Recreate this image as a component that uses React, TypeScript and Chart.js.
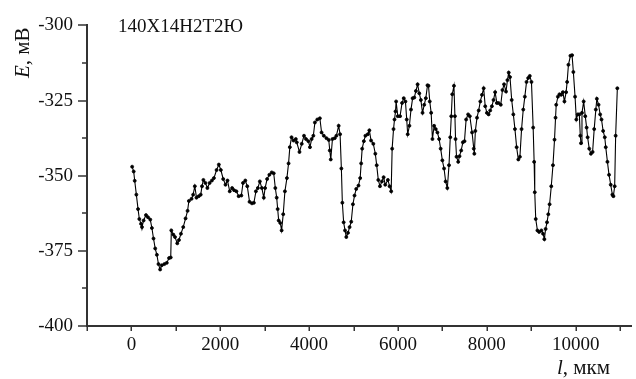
import { useEffect, useRef } from 'react';
import { Chart, registerables } from 'chart.js';

Chart.register(...registerables);

// l, мкм
const positions = [
  16, 51, 74, 111, 149, 178, 216, 238, 274, 328, 372, 424, 461, 497, 535, 573, 609, 646, 684, 742,
  796, 847, 885, 898, 943, 981, 1032, 1070, 1115, 1166, 1219, 1264, 1293, 1353, 1389, 1427, 1464, 1516, 1560, 1589,
  1620, 1665, 1710, 1761, 1812, 1857, 1917, 1968, 2013, 2066, 2118, 2162, 2213, 2267, 2311, 2363, 2414, 2474, 2512, 2563,
  2608, 2659, 2713, 2757, 2802, 2846, 2891, 2936, 2980, 3009, 3054, 3105, 3159, 3203, 3239, 3270, 3292, 3315, 3350, 3381,
  3417, 3455, 3500, 3537, 3566, 3604, 3649, 3700, 3722, 3783, 3834, 3885, 3930, 3983, 4019, 4057, 4095, 4130, 4184, 4242,
  4280, 4331, 4391, 4442, 4465, 4487, 4525, 4576, 4614, 4665, 4697, 4726, 4748, 4777, 4808, 4837, 4875, 4911, 4948, 4986,
  5022, 5060, 5111, 5149, 5171, 5194, 5232, 5267, 5321, 5356, 5394, 5445, 5490, 5521, 5557, 5595, 5639, 5677, 5713, 5773,
  5811, 5847, 5869, 5900, 5922, 5945, 5958, 5996, 6047, 6092, 6130, 6168, 6197, 6219, 6257, 6293, 6330, 6368, 6404, 6442,
  6480, 6515, 6553, 6591, 6627, 6665, 6687, 6716, 6747, 6776, 6814, 6850, 6888, 6926, 6961, 6999, 7037, 7073, 7111, 7149,
  7177, 7200, 7222, 7260, 7282, 7296, 7318, 7356, 7385, 7423, 7461, 7497, 7534, 7579, 7617, 7668, 7706, 7719, 7742, 7779,
  7817, 7853, 7891, 7929, 7964, 8002, 8040, 8076, 8114, 8151, 8187, 8225, 8263, 8314, 8352, 8388, 8432, 8464, 8493, 8522,
  8560, 8597, 8633, 8671, 8709, 8745, 8782, 8820, 8856, 8894, 8931, 8967, 9005, 9043, 9065, 9079, 9101, 9139, 9177, 9228,
  9266, 9295, 9324, 9355, 9384, 9413, 9451, 9489, 9524, 9547, 9562, 9600, 9636, 9674, 9712, 9747, 9785, 9808, 9837, 9882,
  9919, 9948, 9986, 10015, 10046, 10082, 10104, 10120, 10142, 10180, 10216, 10247, 10269, 10305, 10343, 10381, 10417, 10454, 10477, 10515,
  10551, 10582, 10618, 10655, 10677, 10715, 10751, 10789, 10826, 10849, 10878, 10900, 10938,
];

// E, мВ
const potentials = [
  -347.0, -348.6, -351.7, -356.3, -361.1, -364.4, -366.0, -367.1, -364.9, -363.1, -363.8, -364.6, -367.4, -370.9, -374.2, -376.3, -379.4, -381.2, -379.8, -379.4,
  -379.0, -377.4, -377.2, -368.2, -369.6, -370.4, -372.5, -371.4, -369.3, -367.1, -364.2, -361.7, -358.4, -357.7, -356.3, -353.5, -357.3, -356.8, -356.3, -353.5,
  -351.4, -352.4, -354.1, -352.4, -351.6, -350.8, -348.1, -346.3, -348.1, -351.1, -353.0, -351.6, -355.2, -354.1, -354.8, -355.2, -356.8, -356.6, -352.4, -351.6,
  -353.5, -358.7, -359.2, -359.0, -355.2, -354.1, -351.9, -354.1, -357.3, -354.1, -351.1, -349.7, -348.9, -349.2, -354.1, -357.3, -361.1, -364.9, -365.7, -368.2,
  -362.8, -355.2, -350.8, -345.9, -340.5, -337.2, -338.3, -337.8, -338.9, -342.1, -339.4, -336.7, -337.8, -338.5, -340.5, -337.8, -336.7, -332.3, -331.3, -330.9,
  -335.6, -336.7, -337.5, -338.1, -341.6, -344.6, -337.8, -337.5, -336.7, -333.4, -336.2, -347.6, -359.0, -365.5, -368.2, -370.4, -369.0, -367.1, -365.3, -359.5,
  -356.6, -354.4, -353.3, -350.8, -345.9, -341.0, -338.5, -336.7, -336.2, -334.9, -338.3, -339.4, -342.7, -346.5, -351.4, -353.5, -351.9, -350.5, -353.0, -351.4,
  -353.5, -355.2, -341.0, -334.5, -331.3, -328.6, -325.3, -330.2, -330.2, -325.8, -324.2, -325.3, -331.3, -336.2, -333.4, -328.0, -324.2, -324.0, -321.8, -319.6,
  -322.6, -324.8, -329.1, -326.4, -324.2, -319.9, -320.1, -325.3, -329.1, -337.8, -333.4, -334.5, -335.6, -337.8, -341.0, -344.9, -347.6, -351.9, -354.1, -346.5,
  -337.2, -330.2, -322.9, -320.1, -330.2, -337.8, -343.7, -345.4, -343.5, -341.6, -338.9, -338.5, -331.3, -329.6, -330.2, -335.6, -341.0, -342.7, -335.1, -330.7,
  -328.3, -325.3, -323.1, -320.9, -326.9, -329.1, -329.6, -328.3, -326.9, -324.8, -322.2, -325.8, -325.8, -326.4, -321.5, -319.6, -322.0, -318.2, -315.7, -317.2,
  -324.8, -329.6, -334.5, -340.5, -344.6, -343.7, -334.5, -328.0, -323.7, -318.8, -317.5, -316.8, -318.8, -334.0, -345.4, -355.5, -364.4, -368.2, -368.7, -368.2,
  -369.3, -371.1, -367.7, -365.5, -362.8, -359.5, -353.5, -346.5, -338.0, -330.7, -326.4, -323.7, -322.9, -323.1, -322.2, -325.3, -322.2, -318.8, -313.1, -310.1,
  -309.9, -315.5, -323.7, -331.3, -329.6, -329.6, -336.7, -339.2, -329.1, -325.3, -330.2, -334.0, -337.2, -341.0, -342.7, -342.1, -334.5, -328.0, -324.4, -326.4,
  -329.6, -331.3, -335.1, -337.2, -340.5, -345.4, -349.7, -353.0, -356.3, -356.8, -353.5, -336.7, -320.9,
];

const xMin = -1000;
const xMax = 11250;
const xTicks = [-1000, 0, 1000, 2000, 3000, 4000, 5000, 6000, 7000, 8000, 9000, 10000, 11000];
const xLabeledTicks = [0, 2000, 4000, 6000, 8000, 10000];
const yMin = -400;
const yMax = -300;
const yTicks = [-400, -375, -350, -325, -300];
const yMinorTicks = [-387.5, -362.5, -337.5, -312.5];

const sampleLabel = '140Х14Н2Т2Ю';
const yTitleItalic = 'E';
const yTitleRest = ', мВ';
const xTitleItalic = 'l';
const xTitleRest = ', мкм';

const FONT = "'Liberation Serif', serif";
const AXIS_COLOR = '#333';

Chart.defaults.font.family = FONT;

const decorPlugin = {
  id: 'decor',
  afterDraw(chart: any) {
    const ctx = chart.ctx as CanvasRenderingContext2D;
    const xs = chart.scales.x;
    const ys = chart.scales.y;
    const area = chart.chartArea;
    ctx.save();
    ctx.strokeStyle = AXIS_COLOR;
    ctx.lineWidth = 1.5;
    ctx.beginPath();
    for (const v of xTicks) {
      const px = Math.round(xs.getPixelForValue(v)) + 0.25;
      ctx.moveTo(px, area.bottom);
      ctx.lineTo(px, area.bottom + 5);
    }
    for (const v of yTicks) {
      const py = Math.round(ys.getPixelForValue(v));
      ctx.moveTo(area.left, py);
      ctx.lineTo(area.left - 9, py);
    }
    for (const v of yMinorTicks) {
      const py = Math.round(ys.getPixelForValue(v));
      ctx.moveTo(area.left, py);
      ctx.lineTo(area.left - 5, py);
    }
    ctx.stroke();

    ctx.fillStyle = '#111';
    ctx.textBaseline = 'alphabetic';
    ctx.textAlign = 'left';
    ctx.font = `19px ${FONT}`;
    ctx.fillText(sampleLabel, 118, 32);

    ctx.font = `italic 21px ${FONT}`;
    const xStart = 557;
    ctx.fillText(xTitleItalic, xStart, 374);
    const wI = ctx.measureText(xTitleItalic).width;
    ctx.font = `21px ${FONT}`;
    ctx.fillText(xTitleRest, xStart + wI, 374);

    ctx.save();
    ctx.translate(29, 78);
    ctx.rotate(-Math.PI / 2);
    ctx.font = `italic 21px ${FONT}`;
    ctx.fillText(yTitleItalic, 0, 0);
    const wE = ctx.measureText(yTitleItalic).width;
    ctx.font = `21px ${FONT}`;
    ctx.fillText(yTitleRest, wE, 0);
    ctx.restore();

    ctx.restore();
  },
};

export default function App() {
  const canvasRef = useRef<HTMLCanvasElement>(null);

  useEffect(() => {
    document.body.style.margin = '0';
    const canvas = canvasRef.current;
    if (!canvas) return;
    const data = positions.map((x, i) => ({ x, y: potentials[i] }));
    const chart = new Chart(canvas, {
      type: 'line',
      data: {
        datasets: [
          {
            data,
            borderColor: '#000',
            borderWidth: 1.1,
            pointRadius: 1.5,
            pointBackgroundColor: '#000',
            pointBorderColor: '#000',
            pointBorderWidth: 0.8,
            tension: 0,
          },
        ],
      },
      options: {
        animation: false,
        responsive: false,
        maintainAspectRatio: false,
        layout: { padding: { top: 19, right: 0, left: 0, bottom: 0 } },
        plugins: {
          legend: { display: false },
          tooltip: { enabled: false },
        },
        scales: {
          x: {
            type: 'linear',
            min: xMin,
            max: xMax,
            afterBuildTicks: (s: any) => {
              s.ticks = xTicks.map((v) => ({ value: v }));
            },
            afterFit: (s: any) => {
              s.height = 53;
            },
            grid: { display: false, drawTicks: false, tickLength: 0 },
            border: { display: true, color: AXIS_COLOR, width: 2 },
            ticks: {
              autoSkip: false,
              maxRotation: 0,
              padding: 8,
              color: '#111',
              font: { family: FONT, size: 19 },
              callback: (v: any) => (xLabeledTicks.includes(Number(v)) ? String(v) : ''),
            },
          },
          y: {
            type: 'linear',
            min: yMin,
            max: yMax,
            afterBuildTicks: (s: any) => {
              s.ticks = yTicks.map((v) => ({ value: v }));
            },
            afterFit: (s: any) => {
              s.width = 87;
            },
            grid: { display: false, drawTicks: false, tickLength: 0 },
            border: { display: true, color: AXIS_COLOR, width: 2 },
            ticks: {
              padding: 14,
              color: '#111',
              font: { family: FONT, size: 19 },
              callback: (v: any) => String(v),
            },
          },
        },
      },
      plugins: [decorPlugin],
    });
    return () => chart.destroy();
  }, []);

  return (
    <div style={{ width: 636, height: 379, background: '#fff' }}>
      <canvas ref={canvasRef} width={636} height={379} style={{ display: 'block' }} />
    </div>
  );
}
